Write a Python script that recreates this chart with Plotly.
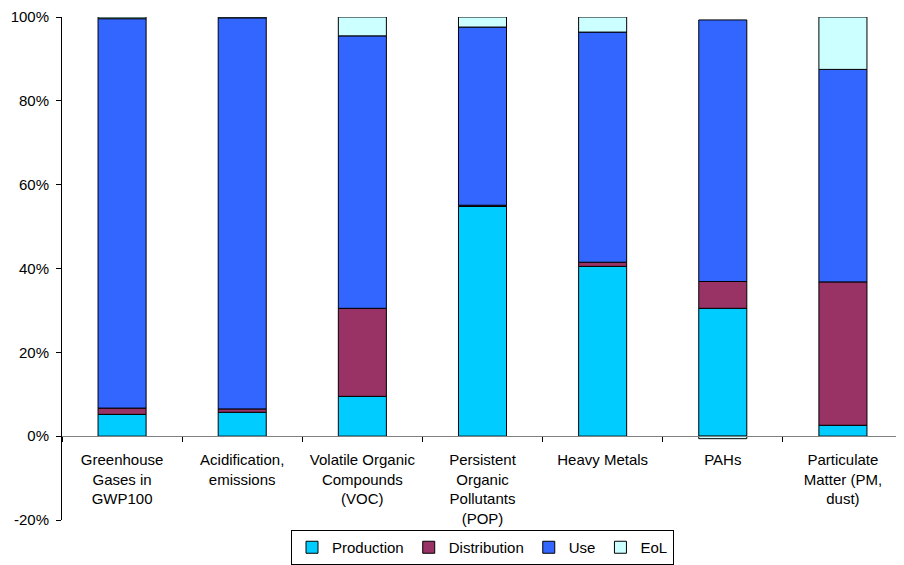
import plotly.graph_objects as go

categories = [
    "Greenhouse<br>Gases in<br>GWP100",
    "Acidification,<br>emissions",
    "Volatile Organic<br>Compounds<br>(VOC)",
    "Persistent<br>Organic<br>Pollutants<br>(POP)",
    "Heavy Metals",
    "PAHs",
    "Particulate<br>Matter (PM,<br>dust)",
]
production = [5.2, 5.7, 9.5, 54.8, 40.5, 30.5, 2.6]
distribution = [1.5, 0.8, 21.0, 0.3, 1.0, 6.4, 34.2]
use = [92.9, 93.3, 65.0, 42.5, 54.9, 62.4, 50.7]
eol = [0.4, 0.2, 4.5, 2.4, 3.6, -0.6, 12.5]

y_ticks = [-20, 0, 20, 40, 60, 80, 100]
y_tick_labels = ["-20%", "0%", "20%", "40%", "60%", "80%", "100%"]

series = [
    ("Production", production, "#00CCFF"),
    ("Distribution", distribution, "#993366"),
    ("Use", use, "#3366FF"),
    ("EoL", eol, "#CCFFFF"),
]

fig = go.Figure()
for name, vals, col in series:
    fig.add_trace(go.Bar(
        x=categories, y=vals, name=name,
        marker=dict(color=col, line=dict(color="black", width=1)),
    ))

fig.update_layout(
    barmode="relative",
    bargap=0.6,
    width=896, height=557,
    margin=dict(l=54, r=1, t=9, b=45, autoexpand=False),
    plot_bgcolor="white", paper_bgcolor="white",
    font=dict(family="Liberation Sans, Arial, sans-serif", size=15, color="black"),
    showlegend=True,
    legend=dict(
        orientation="h", x=0.5, xanchor="center",
        yref="container", y=-0.018, yanchor="bottom",
        bordercolor="black", borderwidth=1, font=dict(size=15),
        traceorder="normal", itemwidth=30, tracegroupgap=0,
    ),
    xaxis=dict(
        anchor="free", position=20/120,
        showline=True, linecolor="#808080", linewidth=1,
        ticks="outside", tickson="boundaries", ticklen=5, tickcolor="black",
        showgrid=False, automargin=False, ticklabelstandoff=10,
        ticklabeloverflow="allow",
    ),
    yaxis=dict(
        range=[-20, 100], tickmode="array", tickvals=y_ticks, ticktext=y_tick_labels,
        showline=True, linecolor="black", linewidth=1,
        ticks="outside", ticklen=5, tickcolor="black",
        showgrid=False, zeroline=False, automargin=False, ticklabelstandoff=4,
        ticklabeloverflow="allow",
    ),
)

fig.write_html("out.html")
